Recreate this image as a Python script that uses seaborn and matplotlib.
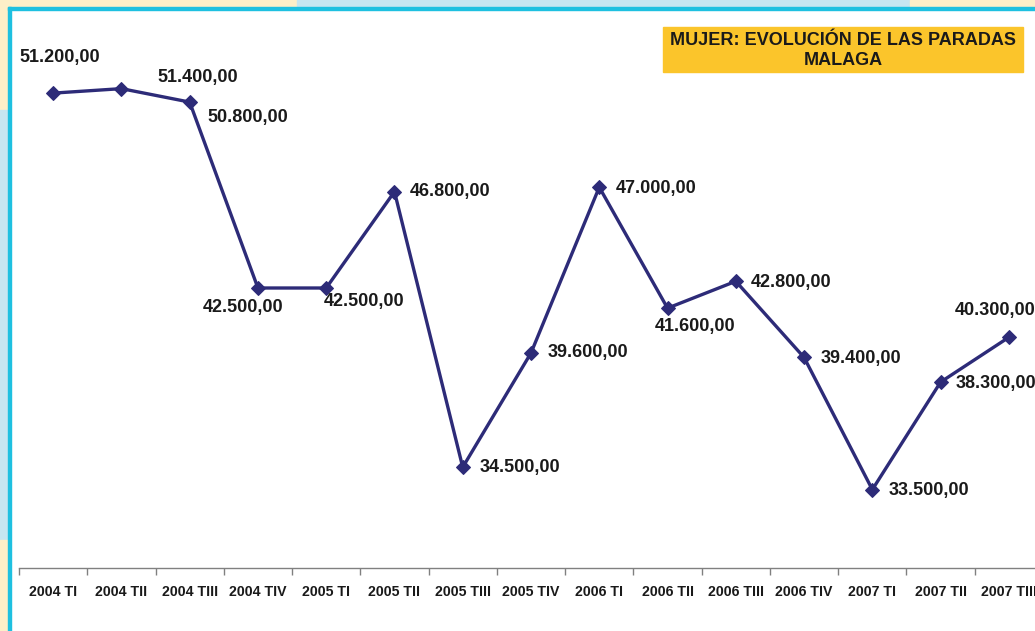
import numpy as np
import pandas as pd
import seaborn as sns
import matplotlib.pyplot as plt
from matplotlib.patches import Rectangle

# Quarterly data (MALAGA, women)
periods = ['2004 TI', '2004 TII', '2004 TIII', '2004 TIV',
           '2005 TI', '2005 TII', '2005 TIII', '2005 TIV',
           '2006 TI', '2006 TII', '2006 TIII', '2006 TIV',
           '2007 TI', '2007 TII', '2007 TIII']
paradas = [51200, 51400, 50800, 42500, 42500, 46800, 34500, 39600,
           47000, 41600, 42800, 39400, 33500, 38300, 40300]

# label offsets in points (dx, dy) and horizontal alignment
label_offsets = [(5, 26, 'center'), (55, 8, 'center'), (13, -11, 'left'),
                 (-11, -14, 'center'), (27, -10, 'center'), (11, 0, 'left'),
                 (12, 0, 'left'), (12, 0, 'left'), (12, -1, 'left'),
                 (20, -13, 'center'), (11, -1, 'left'), (12, -1, 'left'),
                 (12, -1, 'left'), (11, -1, 'left'), (-10, 19, 'center')]

df = pd.DataFrame({'pos': np.arange(len(periods)), 'paradas': paradas})

sns.set_style('white')
plt.rcParams['font.family'] = ['Liberation Sans', 'DejaVu Sans']

fig = plt.figure(figsize=(10.35, 6.31), dpi=100)
fig.patch.set_facecolor('white')

# decorative page background strips and cyan frame
yel, blu = '#FDEFC8', '#C6E6F1'
W, H = 1035, 631
def px_rect(x, y, w, h, c, z=0):
    fig.patches.append(Rectangle((x / W, 1 - (y + h) / H), w / W, h / H,
                                 transform=fig.transFigure, color=c, zorder=z))
px_rect(0, 0, 297, 8, yel)
px_rect(297, 0, 613, 8, blu)
px_rect(910, 0, 125, 8, yel)
px_rect(0, 0, 8, 110, yel)
px_rect(0, 110, 8, 430, blu)
px_rect(0, 540, 8, 91, yel)
px_rect(8, 7, 3, 624, '#1EC0E0')
px_rect(8, 7, 1027, 3, '#1EC0E0')
px_rect(663, 27, 360, 45, '#FBC52B')

ax = fig.add_axes([19 / W, 1 - 568 / H, 1024 / W, 560 / H])
ax.set_facecolor('none')

sns.lineplot(data=df, x='pos', y='paradas', ax=ax, color='#2D2B78',
             linewidth=2.4, marker='D', markersize=7.5,
             markeredgecolor='#2D2B78', clip_on=False)

ax.set_xlim(-0.5, len(periods) - 0.5)
ax.set_ylim(30000, 55000)
ax.set_xlabel('')
ax.set_ylabel('')
ax.set_yticks([])
ax.set_xticks(df['pos'])
ax.set_xticklabels(periods, fontsize=10.2, fontweight='bold', color='#1a1a1a')
ax.set_xticks(np.arange(-0.5, len(periods), 1), minor=True)
ax.tick_params(axis='x', which='major', length=0, pad=12)
ax.tick_params(axis='x', which='minor', length=5, color='#808080',
               width=1, direction='out', bottom=True)
for s in ['top', 'right', 'left']:
    ax.spines[s].set_visible(False)
ax.spines['bottom'].set_color('#808080')
ax.spines['bottom'].set_linewidth(1)

for x, v, (dx, dy, ha) in zip(df['pos'], paradas, label_offsets):
    txt = f'{v:,.2f}'.replace(',', 'X').replace('.', ',').replace('X', '.')
    ax.annotate(txt, (x, v), xytext=(dx, dy), textcoords='offset points',
                ha=ha, va='center', fontsize=13, fontweight='bold',
                color='#1a1a1a', annotation_clip=False)

fig.text((663 + 1023) / 2 / W, 1 - 50.5 / H,
         'MUJER: EVOLUCIÓN DE LAS PARADAS\nMALAGA',
         ha='center', va='center', fontsize=13, fontweight='bold',
         color='#1a1a1a', linespacing=1.3, zorder=5)

fig.savefig('out.png', dpi=100)
